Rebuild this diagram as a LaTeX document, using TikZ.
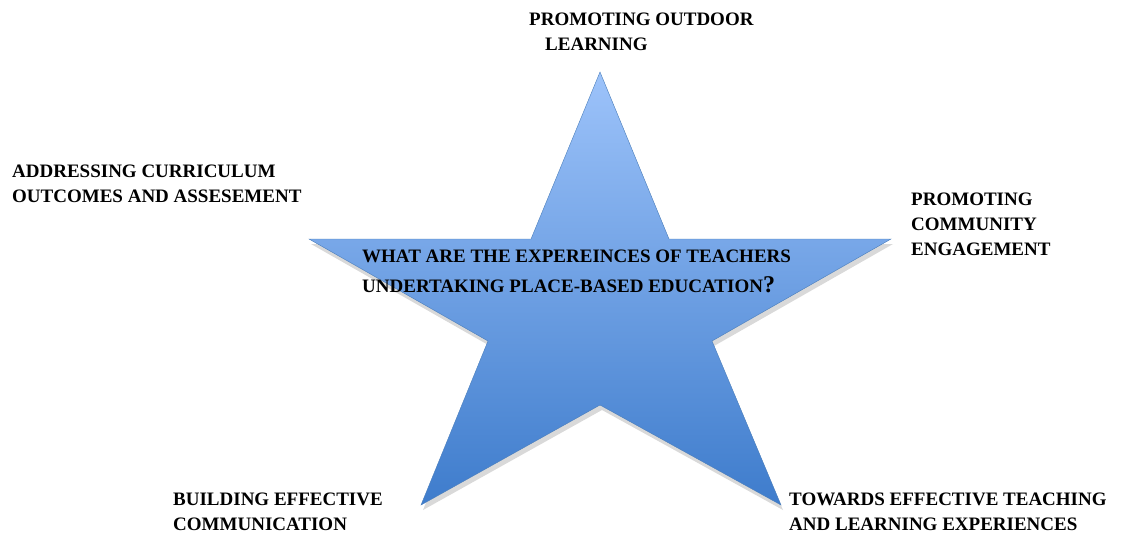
\documentclass[tikz,border=0pt]{standalone}
\usepackage{fontspec}
\setmainfont{Liberation Serif}
\usetikzlibrary{shadows}

\definecolor{startop}{RGB}{157,195,250}
\definecolor{starbot}{RGB}{62,124,204}
\definecolor{starline}{RGB}{74,126,187}

\begin{document}
\begin{tikzpicture}[x=1pt,y=-1pt,
  lbl/.style={font=\fontsize{19}{25}\selectfont\bfseries, align=left, inner sep=0pt, anchor=base west},
  qlbl/.style={lbl, font=\fontsize{19}{30}\selectfont\bfseries}]
\useasboundingbox (0,0) rectangle (1123,535);
% star points
\coordinate (top) at (600,72);
\coordinate (itr) at (669,239);
\coordinate (rgt) at (891,239);
\coordinate (irt) at (712,341);
\coordinate (brt) at (781,505);
\coordinate (ibt) at (600,405);
\coordinate (blt) at (421,505);
\coordinate (ilt) at (488,341);
\coordinate (lft) at (309,239);
\coordinate (itl) at (531,239);
\path[draw=starline, top color=startop, bottom color=starbot,
  drop shadow={shadow xshift=2pt, shadow yshift=-5pt, opacity=0.3}]
  (top) -- (itr) -- (rgt) -- (irt) -- (brt) -- (ibt) -- (blt) -- (ilt) -- (lft) -- (itl) -- cycle;
% labels (placed at the baseline of their last line)
\node[lbl] (outdoor) at (529,51) {PROMOTING OUTDOOR\\\hspace*{16pt}LEARNING};
\node[lbl] (curric) at (12,202) {ADDRESSING CURRICULUM\\OUTCOMES AND ASSESEMENT};
\node[lbl] (commun) at (911,255) {PROMOTING\\COMMUNITY\\ENGAGEMENT};
\node[qlbl] (quest) at (362,292) {WHAT ARE THE EXPEREINCES OF TEACHERS\\UNDERTAKING PLACE-BASED EDUCATION{\fontsize{24}{30}\selectfont ?}};
\node[lbl] (build) at (173,530) {BUILDING EFFECTIVE\\COMMUNICATION};
\node[lbl] (teach) at (789,530) {TOWARDS EFFECTIVE TEACHING\\AND LEARNING EXPERIENCES};
\end{tikzpicture}
\end{document}
